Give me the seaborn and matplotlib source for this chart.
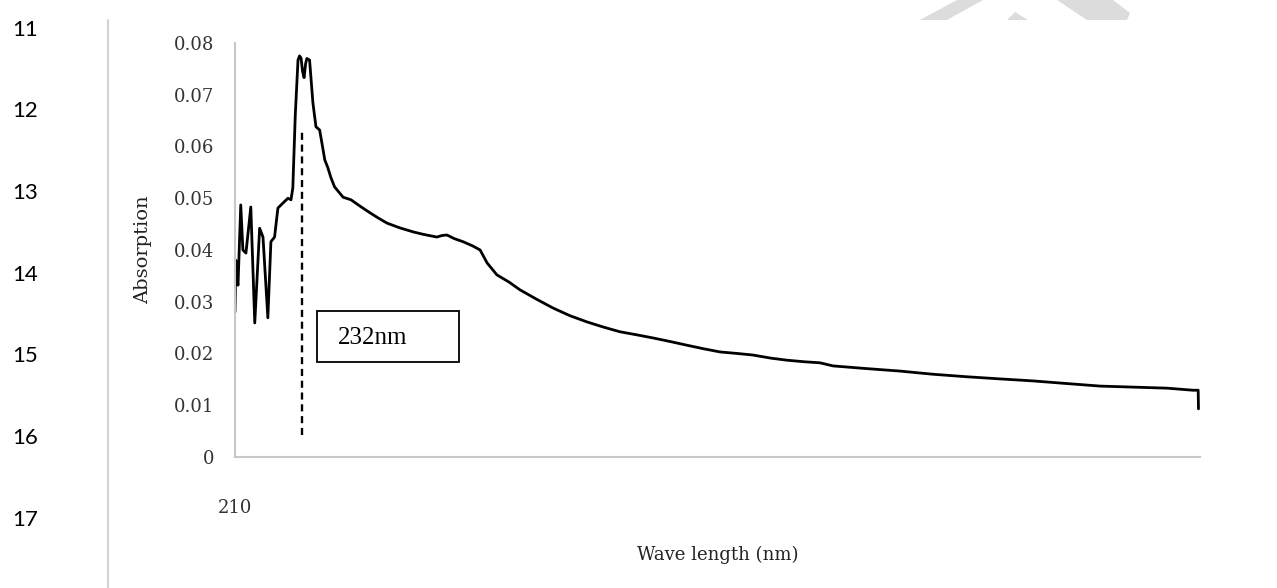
import matplotlib
matplotlib.use("Agg")
import matplotlib.pyplot as plt
from matplotlib.patches import Rectangle, Polygon
import seaborn as sns

# absorption spectrum
wavelength = [210.0, 210.3, 210.6, 211.0, 211.9, 212.6, 213.6, 215.2, 216.5, 218.1,
              219.2, 220.8, 221.8, 223.0, 224.1, 225.8, 227.4, 228.4, 229.0, 229.8,
              230.7, 231.2, 231.7, 232.2, 232.7, 233.2, 233.6, 234.5, 235.6, 236.6,
              237.8, 238.6, 239.5, 240.5, 241.5, 242.7, 245.5, 248.1, 251.0, 254.3,
              257.0, 259.9, 264.0, 268.5, 272.0, 276.3, 278.0, 279.6, 282.0, 284.9,
              288.0, 290.5, 292.8, 296.0, 300.0, 303.6, 309.0, 314.4, 320.0, 325.6,
              331.0, 336.4, 342.0, 347.3, 353.0, 358.4, 364.0, 369.3, 375.0, 380.1,
              386.0, 391.3, 397.0, 402.1, 406.4, 417.0, 428.4, 439.0, 450.4, 461.0,
              472.1, 483.0, 494.1, 505.0, 516.1, 524.6, 526.3, 526.4]
absorption = [0.0280, 0.0380, 0.0345, 0.0332, 0.0487, 0.0400, 0.0394, 0.0483, 0.0259, 0.0442,
              0.0425, 0.0269, 0.0416, 0.0425, 0.0481, 0.0491, 0.0500, 0.0497, 0.0520, 0.0660,
              0.0767, 0.0775, 0.0771, 0.0745, 0.0733, 0.0760, 0.0770, 0.0767, 0.0684, 0.0638,
              0.0632, 0.0605, 0.0574, 0.0559, 0.0540, 0.0522, 0.0502, 0.0497, 0.0485, 0.0472,
              0.0462, 0.0452, 0.0443, 0.0435, 0.0430, 0.0425, 0.0428, 0.0429, 0.0422, 0.0416,
              0.0408, 0.0400, 0.0375, 0.0352, 0.0338, 0.0323, 0.0305, 0.0288, 0.0273, 0.0261,
              0.0251, 0.0242, 0.0236, 0.0230, 0.0223, 0.0216, 0.0209, 0.0203, 0.0200, 0.0197,
              0.0191, 0.0187, 0.0184, 0.0182, 0.0176, 0.0171, 0.0166, 0.0160, 0.0155, 0.0151,
              0.0147, 0.0142, 0.0137, 0.0135, 0.0133, 0.0129, 0.0129, 0.0093]

y_ticks = [0, 0.01, 0.02, 0.03, 0.04, 0.05, 0.06, 0.07, 0.08]
y_tick_labels = ["0", "0.01", "0.02", "0.03", "0.04", "0.05", "0.06", "0.07", "0.08"]
x_ticks = [210]
x_tick_labels = ["210"]
peak_wl = 232
peak_line = (0.0043, 0.0634)
peak_label = "232nm"
line_numbers = ["11", "12", "13", "14", "15", "16", "17"]

sns.set_style("white")
plt.rcParams["font.family"] = ["DejaVu Serif"]

fig = plt.figure(figsize=(12.77, 5.88), dpi=100)
ax = fig.add_axes([0.184, 0.2228, 0.7557, 0.7041])

sns.lineplot(x=wavelength, y=absorption, ax=ax, color="black", linewidth=2.0)

ax.vlines(peak_wl, peak_line[0], peak_line[1], colors="black",
          linestyles=(0, (3, 2)), linewidth=1.7)

ax.set_xlim(210, 526.9)
ax.set_ylim(0, 0.08)
ax.set_yticks(y_ticks)
ax.set_yticklabels(y_tick_labels)
ax.set_xticks(x_ticks)
ax.set_xticklabels(x_tick_labels)

for side in ["top", "right"]:
    ax.spines[side].set_visible(False)
for side in ["left", "bottom"]:
    ax.spines[side].set_color("#c8c8c8")
    ax.spines[side].set_linewidth(1.5)

ax.tick_params(axis="y", direction="out", length=6, width=1.3, color="#c8c8c8",
               pad=9, labelsize=13, labelcolor="#333333")
ax.tick_params(axis="x", direction="out", length=6, width=1.3, color="#c8c8c8",
               pad=24, labelsize=13, labelcolor="#333333")
ax.yaxis.get_major_ticks()[-1].tick1line.set_visible(False)

ax.set_ylabel("Absorption", fontsize=14, color="#222222")
ax.yaxis.set_label_coords(-0.0953, 0.5)
ax.yaxis.label.set_va("center")
ax.set_xlabel("Wave length (nm)", fontsize=13, color="#222222")
ax.xaxis.set_label_coords(0.5, -0.237)
ax.xaxis.label.set_va("center")

# boxed annotation of the peak
ax.add_patch(Rectangle((0.085, 0.2295), 0.147, 0.1232, transform=ax.transAxes,
                       fill=False, edgecolor="black", linewidth=1.3))
ax.text(0.1067, 0.287, peak_label, transform=ax.transAxes, ha="left", va="center",
        fontsize=18, family=["Liberation Serif"], color="black")

# page furniture of the scanned document: line numbers and margin rule
for i, num in enumerate(line_numbers):
    yy = 1 - (29.5 + 81.7 * i) / 588
    fig.text(12 / 1277, yy, num, ha="left", va="center", fontsize=16,
             family=["Lato", "DejaVu Sans"], color="black")
fig.add_artist(plt.Line2D([108 / 1277, 108 / 1277], [0, 1 - 20 / 588],
                          color="#d4d4d4", linewidth=1.6))

# faint watermark fragments at the top edge
wm = [
    [(920, 20), (947, 20), (983, 0), (957, 0)],
    [(1007, 20), (1028, 20), (1015, 12)],
    [(1057, 0), (1113, 0), (1130, 13), (1127, 20), (1087, 20)],
]
for poly in wm:
    pts = [(px / 1277, 1 - py / 588) for px, py in poly]
    fig.add_artist(Polygon(pts, closed=True, transform=fig.transFigure,
                           facecolor="#dcdcdc", edgecolor="none"))

fig.savefig("out.png", dpi=100)
